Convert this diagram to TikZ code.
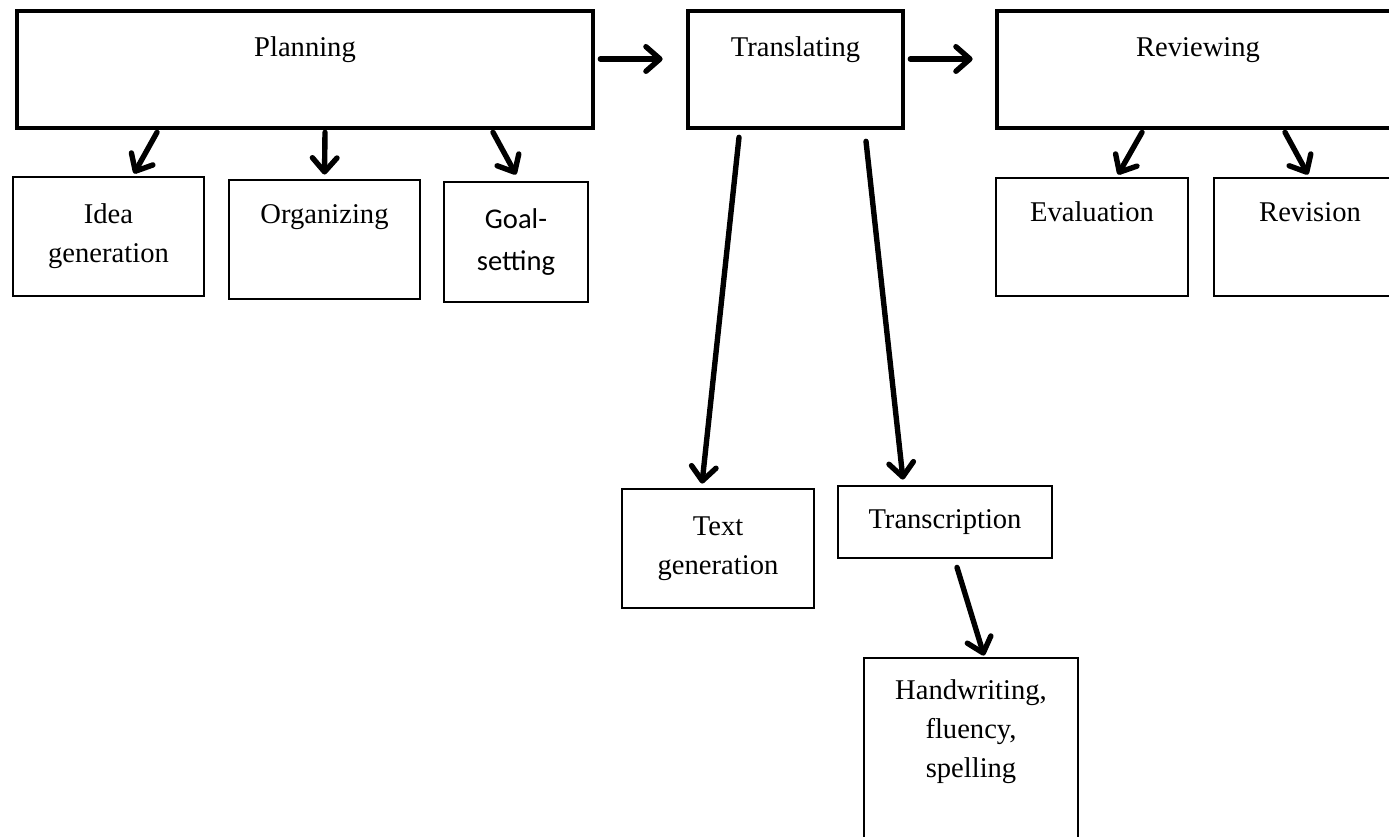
\documentclass[tikz,border=0pt]{standalone}
\usepackage{fontspec}
\setmainfont{Liberation Serif}
\newfontfamily\calibri{Carlito}
\usepackage{tikz}
\usetikzlibrary{calc,arrows.meta,positioning}

\begin{document}
\begin{tikzpicture}[x=0.015cm, y=-0.015cm,
    bigbox/.style={draw, line width=2pt, align=center, inner sep=0pt,
      font=\fontsize{12.2}{16.6}\selectfont},
    box/.style={draw, line width=1.2pt, align=center, inner sep=0pt,
      font=\fontsize{12.2}{16.6}\selectfont},
    arr/.style={line width=2.3pt, line cap=round,
      -{Straight Barb[length=6pt, width=10.5pt, line width=2.3pt, round]}}]
   \useasboundingbox (0,0) rectangle (1389,837);
   \clip (0,0) rectangle (1389,837);

   %main processes
   \node[bigbox, minimum width=576*0.015cm, minimum height=117*0.015cm] (plan) at (305,69.5) {Planning\\[-2pt] \strut};
   \node[bigbox, minimum width=215*0.015cm, minimum height=117*0.015cm] (trans) at (795.5,69.5) {Translating\\[-2pt] \strut};
   \node[bigbox, minimum width=402*0.015cm, minimum height=117*0.015cm] (rev) at (1198,69.5) {Reviewing\\[-2pt] \strut};

   %planning
   \node[box, minimum width=191*0.015cm, minimum height=119*0.015cm] (idea) at (108.5,236.5) {Idea\\generation};
   \node[box, minimum width=191*0.015cm, minimum height=119*0.015cm] (org) at (324.5,239.5) {Organizing\\ \strut};
   \node[box, minimum width=144*0.015cm, minimum height=120*0.015cm, font=\calibri\fontsize{12.2}{18}\selectfont] (goal) at (516,242) {Goal-\\setting};

   %translating
   \node[box, minimum width=192*0.015cm, minimum height=119*0.015cm] (tgen) at (718,548.5) {Text\\generation};
   \node[box, minimum width=214*0.015cm, minimum height=72*0.015cm] (tscr) at (945,522) {Transcription};
   \node[box, minimum width=214*0.015cm, minimum height=192*0.015cm] (hand) at (971,754) {Handwriting,\\fluency,\\spelling\\ \strut};

   %reviewing
   \node[box, minimum width=192*0.015cm, minimum height=118*0.015cm] (eval) at (1092,237) {Evaluation\\ \strut};
   \node[box, minimum width=192*0.015cm, minimum height=118*0.015cm] (revi) at (1310,237) {Revision\\ \strut};

  \path[arr]
    ($(plan.east)+(5,-10.5)$) edge ($(trans.west)+(-23,-10.5)$)
    ($(trans.east)+(5,-10.5)$) edge ($(rev.west)+(-22,-10.5)$)

    %planning
    ($(plan.south)+(-148,2)$) edge ($(idea.north)+(25.5,-2)$)
    ($(plan.south)+(20,2)$) edge ($(org.north)+(0,-4)$)
    ($(plan.south)+(188,2)$) edge ($(goal.north)+(0,-6)$)

    %translating
    ($(trans.south)+(-56.5,7)$) edge ($(tgen.north)+(-16,-4)$)
    ($(trans.south)+(70.5,11)$) edge ($(tscr.north)+(-42,-5)$)
    ($(tscr.south)+(12,8)$) edge ($(hand.north)+(13,-1)$)

    %reviewing
    ($(rev.south)+(-56,2)$) edge ($(eval.north)+(26,-2)$)
    ($(rev.south)+(87,2)$) edge ($(revi.north)+(-2,-2)$);
\end{tikzpicture}
\end{document}
